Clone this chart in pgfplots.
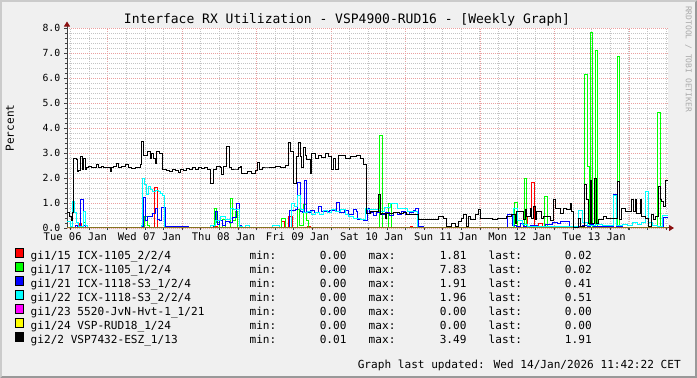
\documentclass[border=0pt]{standalone}
\usepackage{pgfplots}
\pgfplotsset{compat=1.18}
\usepackage{fontspec}
\setmainfont{DejaVu Sans Mono}
\usetikzlibrary{arrows.meta}
\definecolor{bgc}{HTML}{F0F0F0}
\definecolor{shA}{HTML}{CBCBCB}
\definecolor{shB}{HTML}{999999}
\definecolor{mgrid}{HTML}{EBA0A0}
\definecolor{ngrid}{HTML}{C4C4C4}
\definecolor{axc}{HTML}{404040}
\definecolor{arrc}{HTML}{8B1010}
\definecolor{zeroc}{HTML}{857320}
\definecolor{wm}{HTML}{ABABAB}
\definecolor{cg}{HTML}{00FF00}
\definecolor{cb}{HTML}{0000FF}
\definecolor{cc}{HTML}{00FFFF}
\definecolor{cm}{HTML}{FF00FF}
\definecolor{cy}{HTML}{FFFF00}
\newcommand\titlefont{\fontsize{13bp}{15bp}\selectfont}
\newcommand\tickfont{\fontsize{10.5bp}{12bp}\selectfont}
\newcommand\ytickfont{\fontsize{9.8bp}{11bp}\selectfont}
\newcommand\legfont{\fontsize{11.1bp}{13bp}\selectfont}
\newcommand\legrow[4]{\rlap{#1}\hspace*{218.9bp}\rlap{min:}\hspace*{96.9bp}\llap{#2}\hspace*{22.2bp}\rlap{max:}\hspace*{97.8bp}\llap{#3}\hspace*{22.2bp}\rlap{last:}\hspace*{103bp}\llap{#4}}
\begin{document}
\begin{tikzpicture}
\useasboundingbox (0,0) rectangle (697bp,378bp);
\fill[shB] (0,0) rectangle (697bp,378bp);
\fill[shA] (0,0) -- (0,378bp) -- (697bp,378bp) -- (695bp,376bp) -- (2bp,376bp) -- (2bp,2bp) -- cycle;
\fill[bgc] (2bp,2bp) rectangle (695bp,376bp);
\begin{axis}[
  at={(67bp,150bp)}, anchor=south west,
  scale only axis, width=601bp, height=200bp,
  xmin=0, xmax=601, ymin=0, ymax=8,
  clip=false,
  axis background/.style={fill=white},
  axis x line=bottom, axis y line=left,
  x axis line style={draw=axc, line width=1bp, shorten >=-6bp, -{Triangle[length=5bp,width=6bp,color=arrc]}},
  y axis line style={draw=axc, line width=1bp, shorten >=-6.5bp, -{Triangle[length=5bp,width=6bp,color=arrc]}},
  const plot, no markers,
  every axis plot/.append style={line width=1bp},
  xtick={40.7,115.17,189.64,264.11,338.58,413.05,487.52,561.99},
  xticklabels={,,,,,,,},
  minor xtick={3.47,22.08,...,600},
  extra x ticks={8.3,82.4,156.5,230.6,304.7,378.8,452.9,527},
  extra x tick labels={Tue 06 Jan,Wed 07 Jan,Thu 08 Jan,Fri 09 Jan,Sat 10 Jan,Sun 11 Jan,Mon 12 Jan,Tue 13 Jan},
  extra x tick style={grid=none, major tick length=0pt},
  ytick={0,1,2,3,4,5,6,7,8},
  yticklabels={0.0,1.0,2.0,3.0,4.0,5.0,6.0,7.0,8.0},
  minor y tick num=4,
  grid=both,
  major grid style={draw=mgrid, line width=0.8bp, dash pattern=on 1bp off 1bp},
  minor grid style={draw=ngrid, line width=0.8bp, dash pattern=on 1bp off 1bp},
  tick align=outside, major tick length=2.5bp, minor tick length=2bp,
  tick style={draw=axc, line width=0.6bp},
  xticklabel style={font=\tickfont, inner sep=0pt, anchor=north, yshift=-4.5bp},
  yticklabel style={font=\ytickfont, inner sep=0pt, anchor=east, xshift=-4bp},
  title={Interface RX Utilization - VSP4900-RUD16 - [Weekly Graph]},
  title style={at={(axis description cs:0.4659,1.012)}, anchor=center, font=\titlefont, inner sep=0pt},
  ylabel={Percent},
  ylabel style={at={(axis description cs:-0.0948,0.5)}, anchor=center, font=\legfont, inner sep=0pt},
  legend cell align=left,
  legend image code/.code={\draw[#1,fill,draw=black,line width=0.7bp,solid] (0bp,-0.5bp) rectangle (7.5bp,8.5bp);},
  legend style={at={(axis description cs:-0.0865,-0.10)}, anchor=north west, draw=none, fill=none,
    inner sep=0pt, outer sep=0pt, font=\legfont, row sep=-0.4bp,
    nodes={inner sep=0pt, text height=8.5bp, text depth=2.5bp},
    /tikz/every odd column/.append style={column sep=7.5bp}},
]
\addplot[color=red] coordinates {(0,0) (12,0.18) (14,0) (87.5,1.6) (90,0.02) (92,0) (148,0.05) (150,0) (214,0.25) (217,0) (221,0.45) (225,0) (240,0.05) (243,0) (343,0.05) (345,0) (460,0.45) (464,1.81) (467,0) (471,0.19) (475,0) (590,0.02) (601,0.02)};
\addlegendentry{\legrow{gi1/15 ICX-1105\_2/2/4}{0.00}{1.81}{0.02}}
\addplot[color=cg] coordinates {(0,0) (16,0.2) (18,0) (77,0.45) (80,0.1) (82,0) (147,0.76) (149,0.2) (152,0) (155,0.32) (158,0) (163,1.19) (165,0.3) (168,0.65) (170,0) (214,0.39) (218,0) (230,0.72) (232,0.1) (236,0.92) (239,0.3) (241,0) (312,3.72) (315,0) (321,0.99) (324,0) (433,0.03) (435,0) (447,1.03) (450,0) (457,1.96) (459.5,0) (477,1.24) (480,0) (517,6.16) (520,2.45) (522,0) (523.3,7.83) (525.7,0) (528.3,7.09) (530.7,0) (550.3,6.88) (552.5,0) (590.5,4.61) (593,0.02) (601,0.02)};
\addlegendentry{\legrow{gi1/17 ICX-1105\_1/2/4}{0.00}{7.83}{0.02}}
\addplot[color=cb] coordinates {(0,0) (8,0.1) (10,0) (13,1.12) (16,0.1) (18,0) (75,0.05) (76,1.23) (78,0.3) (80,0.45) (84,0.45) (85,0.57) (88,0.79) (90,0.35) (92,0.3) (94,0.83) (97,0.8) (98,0.04) (121,0) (146,0.1) (148,0.65) (150,0.15) (152,0.3) (155,0.1) (158,0.25) (162,0.2) (165,0.4) (169,0.96) (172.5,0.1) (174,0) (222,0.7) (228,0.72) (230.3,1.81) (233,0.65) (235,0.6) (237.3,1.91) (239.7,0.62) (243,0.7) (247,0.6) (251,0.85) (254,0.65) (262,0.7) (269,1.0) (272,0.6) (277,0.7) (281,0.55) (286,0.75) (289,0.65) (290,0.35) (296,0.3) (300,0.77) (302,0.6) (306,0.5) (309,0.62) (313,0.55) (318,0.6) (322,0.5) (326,0.62) (330,0.55) (334,0.65) (338,0.55) (342,0.62) (346,0.7) (348,0.76) (351,0.05) (356,0.02) (380,0.05) (384,0.02) (440,0.52) (445,0.1) (449,0.05) (453,0.19) (456,0.05) (463,0.1) (470,0.05) (478,0.12) (485,0.2) (490,0.19) (493,0.25) (498,0.27) (502,0.05) (515,0.1) (520,0.05) (523,0.15) (526,0.05) (546,1.35) (549,0.05) (555,0.02) (596,0.41) (601,0.41)};
\addlegendentry{\legrow{gi1/21 ICX-1118-S3\_1/2/4}{0.00}{1.91}{0.41}}
\addplot[color=cc] coordinates {(0,0.25) (3,0.05) (5,1.05) (7,0.6) (9,0.2) (11,0.05) (16,0.65) (18,0.1) (20,0.02) (74,0.1) (75,1.96) (77,1.72) (79,1.32) (81,1.65) (83,1.55) (85,1.45) (88,1.5) (91,1.45) (93,1.39) (95,1.3) (97,0.02) (143,0.1) (148,0.3) (153,0.45) (158,0.35) (163,0.79) (166,0.72) (172,0.05) (175,0.02) (178,0.1) (182,0.02) (205,0.1) (212,0.02) (224,0.99) (227,0.85) (230,1.29) (233,0.72) (236,0.6) (240,0.65) (244,0.55) (248,0.62) (252,0.55) (256,0.7) (260,0.62) (264,0.75) (268,0.65) (273,0.75) (278,0.55) (281,0.45) (286,0.39) (293,0.33) (298,0.79) (300,0.72) (313,0.65) (317,0.8) (323,0.99) (330,0.79) (340,0.65) (350.7,0.03) (446,0.79) (450,0.3) (455,0.12) (460,0.05) (511,0.71) (515,0.2) (520,0.1) (528,0.15) (535,0.1) (546,1.3) (549,0.1) (555,0.15) (560,0.1) (565,0.2) (570,0.15) (574,0.2) (578.5,1.45) (581,0.2) (585,0.1) (590,0.05) (595,0.5) (598,0.51) (601,0.51)};
\addlegendentry{\legrow{gi1/22 ICX-1118-S3\_2/2/4}{0.00}{1.96}{0.51}}
\addplot[color=cm] coordinates {(0,0) (601,0)};
\addlegendentry{\legrow{gi1/23 5520-JvN-Hvt-1\_1/21}{0.00}{0.00}{0.00}}
\addplot[color=cy] coordinates {(0,0) (601,0)};
\addlegendentry{\legrow{gi1/24 VSP-RUD18\_1/24}{0.00}{0.00}{0.00}}
\addplot[color=zeroc, forget plot] coordinates {(0,0) (601,0)};
\addplot[color=black] coordinates {(0,0.61) (2,0.45) (4,0.3) (5.5,0.6) (6.5,2.79) (9,2.72) (10,2.25) (11.5,2.3) (13,2.85) (15,2.32) (16,2.79) (18,2.32) (19.7,2.4) (21.3,2.45) (24.7,2.4) (29.7,2.52) (31.3,2.4) (34.7,2.45) (36.3,2.4) (43,2.25) (44.7,2.4) (46.3,2.45) (49.7,2.59) (51.3,2.4) (54.7,2.45) (58,2.55) (61.3,2.4) (64.7,2.38) (68,2.4) (73,2.52) (74.7,3.48) (76.3,2.92) (80.3,3.08) (83,2.79) (84.7,2.99) (86.3,2.79) (88,2.59) (89.7,3.05) (92.3,2.99) (95.7,2.32) (99,2.3) (102,2.25) (105,2.35) (108,2.3) (111,2.2) (113,2.32) (116,2.3) (119,2.38) (122,2.32) (125,2.4) (128,2.35) (131,2.42) (134,2.38) (137,2.4) (140,2.35) (143,1.79) (146.3,2.32) (149.7,2.45) (153,2.42) (154.7,2.12) (156.3,2.45) (159.7,3.25) (162.3,2.4) (164.7,2.32) (169.7,2.32) (171.3,2.4) (173,2.45) (174.7,2.19) (180,2.25) (184,2.19) (188,2.28) (190,2.6) (192,2.32) (195,2.4) (199.7,2.4) (204,2.42) (208,2.45) (213,2.4) (218,2.5) (221.3,3.41) (223,3.05) (226.3,1.77) (229,2.85) (231.3,3.43) (233,2.85) (234.7,2.4) (236.3,3.21) (238,2.92) (239.7,2.72) (243,2.19) (244.7,2.99) (248,2.79) (251.3,2.92) (254.7,2.82) (258,2.99) (261.3,2.85) (264.7,2.32) (266.3,2.79) (268,2.32) (271.3,2.92) (278,2.79) (283,2.85) (289.7,2.92) (293,2.79) (296.3,2.52) (299.7,0.59) (303,0.65) (311.3,1.32) (313,0.55) (314.7,0.59) (318,0.39) (319.7,0.59) (326.3,0.62) (332,0.58) (336,0.62) (339.7,0.52) (351.3,0.32) (360,0.35) (364,0.32) (371.3,0.45) (376.3,0.39) (379.7,0.05) (384.7,0.19) (388,0.06) (391.3,0.25) (394.7,0.39) (396.3,0.52) (399,0.05) (401.3,0.45) (403,0.32) (408,0.52) (411.3,0.72) (413,0.36) (420,0.38) (425,0.35) (430,0.38) (439.7,0.45) (444.7,0.52) (448,0.19) (449.7,0.65) (456.3,0.32) (458,0.72) (459.7,0.45) (463,0.79) (464.7,0.39) (466.3,0.85) (468,0.32) (469.7,0.65) (474.7,0.39) (476.3,0.45) (483,0.3) (486.3,1.12) (488,0.79) (493,0.59) (496.3,0.79) (499.7,0.72) (503,0.99) (504.7,0.65) (506.3,0.02) (511.3,0.39) (513,0.05) (517.3,1.75) (519,1.12) (521.3,0.19) (523,1.9) (524.7,0.19) (527,1.99) (529,0.19) (531.3,0.32) (536.3,0.45) (539.7,0.39) (550.7,1.85) (552.3,0.32) (554.7,0.79) (558,0.65) (564.7,1.12) (566.3,0.65) (568,1.12) (569.7,0.59) (573,1.12) (574.7,0.45) (578,0.39) (581.3,0.05) (584.7,0.52) (586.3,0.32) (588,0.45) (591.3,1.65) (593,1.12) (594.7,1.06) (596.3,0.85) (598,1.91) (601,1.91)};
\addlegendentry{\legrow{gi2/2 VSP7432-ESZ\_1/13}{0.01}{3.49}{1.91}}
\end{axis}
\node[anchor=base east, inner sep=0pt, font=\legfont] at (681bp,10bp) {Graph last updated: Wed 14/Jan/2026 11:42:22 CET};
\node[rotate=-90, inner sep=0pt, font=\fontsize{8bp}{9bp}\selectfont, text=wm] at (688.5bp,319bp) {RRDTOOL / TOBI OETIKER};
\end{tikzpicture}
\end{document}
